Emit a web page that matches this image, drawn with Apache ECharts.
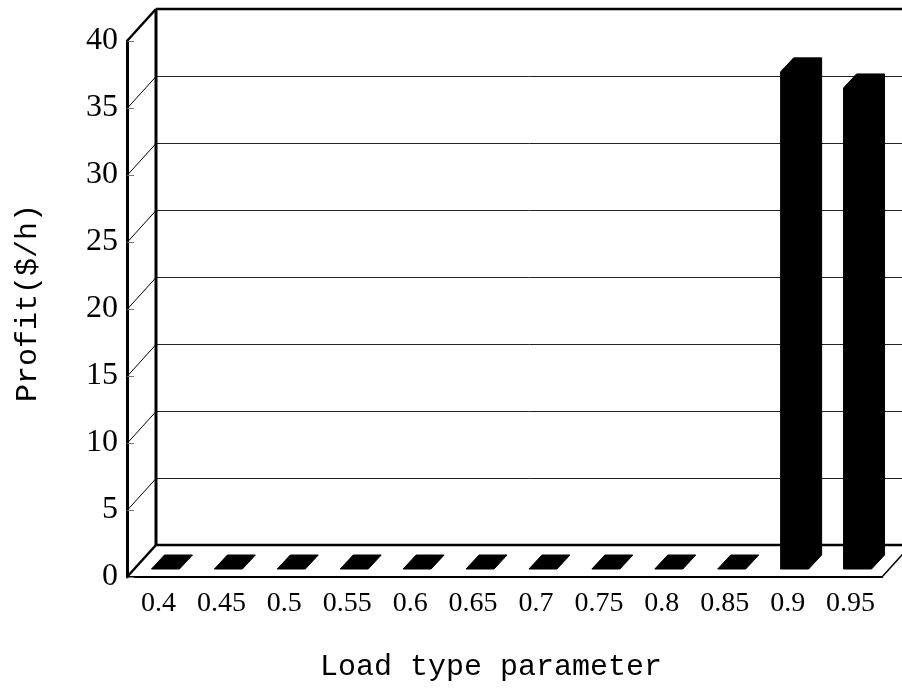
<!DOCTYPE html>
<html>
<head>
<meta charset="utf-8">
<script src="https://cdn.jsdelivr.net/npm/echarts@6/dist/echarts.min.js"></script>
<style>
html,body{margin:0;padding:0;background:#fff;}
#chart{width:902px;height:690px;}
</style>
</head>
<body>
<div id="chart"></div>
<script>
const categories = ['0.4','0.45','0.5','0.55','0.6','0.65','0.7','0.75','0.8','0.85','0.9','0.95'];
const profit = [0,0,0,0,0,0,0,0,0,0,37.1,35.9];
const yTicks = [0,5,10,15,20,25,30,35,40];
const xTitle = 'Load type parameter';
const yTitle = 'Profit($/h)';

// 3D styling (pixel offsets)
const DX = 29, DY = -32;      // wall depth
const BX = 7, BY = -8;        // bar front-face offset from front plane
const BDX = 13, BDY = -14;    // bar depth
const BW = 28;                // bar front width

const chart = echarts.init(document.getElementById('chart'), null, {renderer:'canvas'});

const yMax = yTicks[yTicks.length-1];

const option = {
  backgroundColor:'#fff',
  animation:false,
  grid:{left:127, top:41, width:755, height:536, containLabel:false},
  xAxis:{
    type:'category',
    data:categories,
    axisLine:{show:true, lineStyle:{color:'#000', width:2}},
    axisTick:{show:false},
    axisLabel:{interval:0, margin:13, color:'#000', fontFamily:'Liberation Serif', fontSize:28},
    splitLine:{show:false}
  },
  yAxis:{
    type:'value',
    min:0, max:yMax, interval:5,
    axisLine:{show:true, lineStyle:{color:'#000', width:3}},
    axisTick:{show:true, inside:true, length:7, lineStyle:{color:'#777', width:1}},
    axisLabel:{margin:9, color:'#000', fontFamily:'Liberation Serif', fontSize:32, padding:[4,0,0,0]},
    splitLine:{show:false}
  },
  graphic:[
    {type:'text', position:[491,667], style:{text:xTitle, x:0, y:0, fill:'#000', font:'30px "Liberation Mono"', textAlign:'center', textVerticalAlign:'middle'}},
    {type:'text', position:[28,303], rotation:Math.PI/2, style:{text:yTitle, x:0, y:0, fill:'#000', font:'30px "Liberation Mono"', textAlign:'center', textVerticalAlign:'middle'}}
  ],
  series:[
    {
      type:'custom',
      name:'frame',
      clip:false,
      z:1,
      data:yTicks.map(v=>[0,v]),
      renderItem:function(params, api){
        const cs = params.coordSys;
        const v = api.value(1);
        const yRaw = api.coord([0, v])[1];
        const y0 = api.coord([0, 0])[1];
        const x0 = cs.x, x1 = cs.x + cs.width;
        const edge = (v === 0 || v === yMax);
        const y = edge ? yRaw : Math.round(yRaw) + 0.5;
        const children = [];
        children.push({type:'line', shape:{x1:x0, y1:y, x2:x0+DX, y2:y+DY},
          style:{stroke:'#000', lineWidth: edge ? 2.5 : 1}});
        children.push({type:'line', shape:{x1:x0+DX, y1:y+DY, x2:x1+DX+10, y2:y+DY},
          style:{stroke: edge ? '#000' : '#222', lineWidth: edge ? 2.5 : 1}});
        if (v === 0) {
          children.push({type:'line', shape:{x1:x1, y1:y, x2:x1+DX, y2:y+DY},
            style:{stroke:'#000', lineWidth:1.5}});
        }
        if (v === yMax) {
          children.push({type:'line', shape:{x1:x0+DX, y1:y+DY, x2:x0+DX, y2:y0+DY},
            style:{stroke:'#000', lineWidth:3}});
        }
        return {type:'group', children:children};
      }
    },
    {
      type:'custom',
      name:'Profit',
      clip:false,
      z:3,
      data:profit.map((v,i)=>[i,v]),
      renderItem:function(params, api){
        const i = api.value(0);
        const top = api.coord([i, api.value(1)]);
        const bot = api.coord([i, 0]);
        const xa = top[0] - BW/2 + BX;
        const xb = top[0] + BW/2 + BX;
        const yt = top[1] + BY;
        const yb = bot[1] + BY;
        const pts = [
          [xa, yb], [xa, yt], [xa+BDX, yt+BDY], [xb+BDX, yt+BDY], [xb+BDX, yb+BDY], [xb, yb]
        ];
        return {type:'polygon', shape:{points:pts}, style:{fill:'#000', stroke:'#000', lineWidth:1}};
      }
    }
  ]
};
chart.setOption(option);
</script>
</body>
</html>
